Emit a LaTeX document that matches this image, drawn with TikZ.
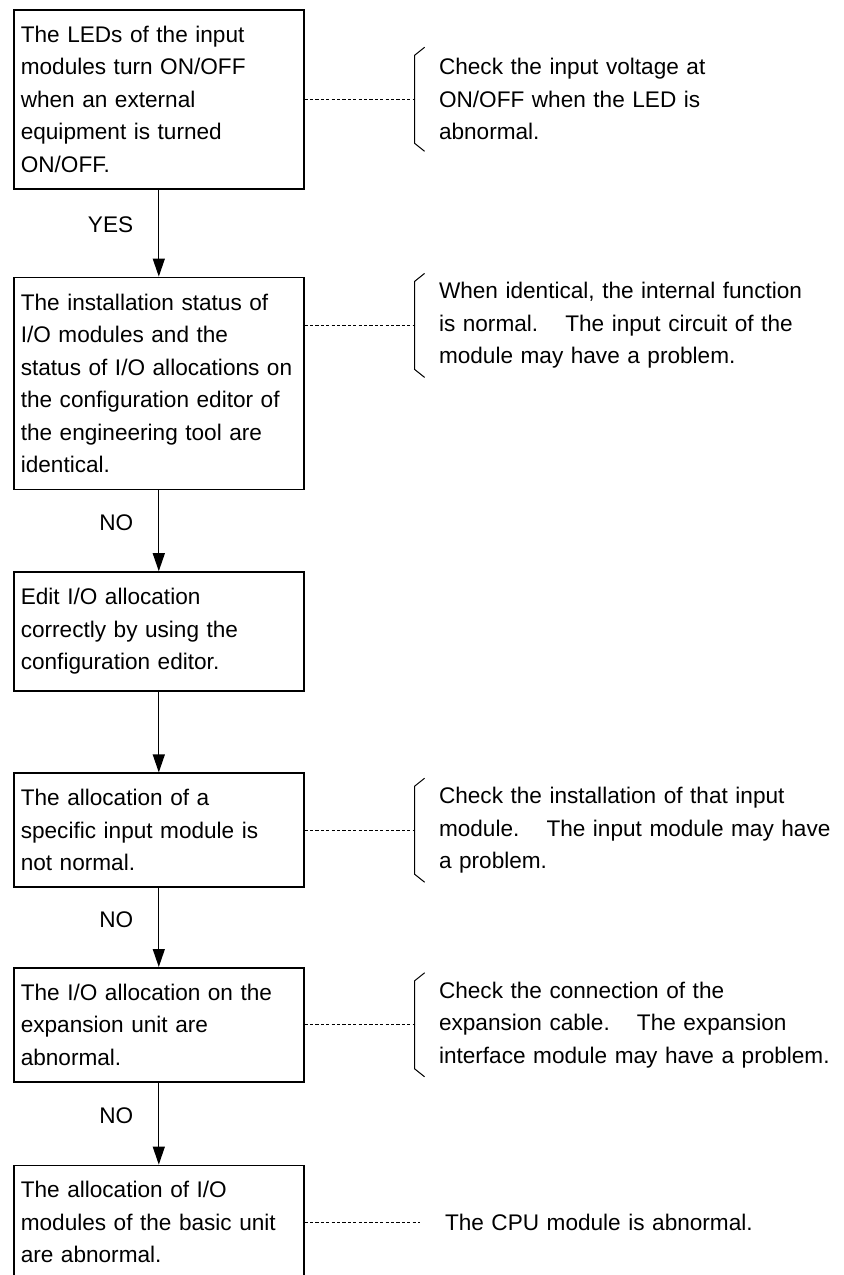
\documentclass[tikz,border=0pt]{standalone}
\usepackage{fontspec}
\setmainfont{Liberation Sans}
\usetikzlibrary{positioning,arrows.meta}

\newcommand{\notebrace}[1]{%
  \draw[bracket] ([xshift=-7pt,yshift=26pt]#1.west) -- ([xshift=-12pt,yshift=22pt]#1.west)
    -- ([xshift=-12pt,yshift=-22pt]#1.west) -- ([xshift=-7pt,yshift=-26pt]#1.west);}

\begin{document}
\begin{tikzpicture}[
    font=\fontsize{11.3pt}{16.25pt}\selectfont,
    stepbox/.style={rectangle, draw, line width=0.8pt, text width=138pt,
                    inner xsep=3.5pt, inner ysep=0pt, align=left},
    note/.style={text width=205pt, inner sep=0pt, align=left},
    flow/.style={-{Triangle[length=9pt,width=6pt]}, line width=0.65pt},
    leader/.style={dash pattern=on 1.6pt off 1.1pt, line width=0.5pt},
    bracket/.style={line width=0.5pt},
    answer/.style={inner sep=0pt, left=12.5pt}
]

\useasboundingbox (0,0) rectangle (421.5pt,-637.5pt);

% Check steps
\node[stepbox, minimum height=89.5pt, anchor=north west] (b1) at (6.5pt,-4.5pt)
  {The LEDs of the input\\ modules turn ON/OFF\\ when an external\\ equipment is turned\\ ON/OFF.};
\node[stepbox, minimum height=106pt, below=43.5pt of b1] (b2)
  {The installation status of\\ I/O modules and the\\ status of I/O allocations on\\ the configuration editor of\\ the engineering tool are\\ identical.};
\node[stepbox, minimum height=59.5pt, below=40.5pt of b2] (b3)
  {Edit I/O allocation\\ correctly by using the\\ configuration editor.};
\node[stepbox, minimum height=57pt, below=40.3pt of b3] (b4)
  {The allocation of a\\ specific input module is\\ not normal.};
\node[stepbox, minimum height=57pt, below=39.5pt of b4] (b5)
  {The I/O allocation on the\\ expansion unit are\\ abnormal.};
\node[stepbox, minimum height=57pt, below=41pt of b5] (b6)
  {The allocation of I/O\\ modules of the basic unit\\ are abnormal.};

% Notes
\node[note, right=67pt of b1] (n1)
  {Check the input voltage at\\ ON/OFF when the LED is\\ abnormal.};
\node[note, right=67pt of b2, yshift=29pt] (n2)
  {When identical, the internal function\\ is normal.\hspace{1.2em}The input circuit of the\\ module may have a problem.};
\node[note, right=67pt of b4] (n4)
  {Check the installation of that input\\ module.\hspace{1.2em}The input module may have\\ a problem.};
\node[note, right=67pt of b5] (n5)
  {Check the connection of the\\ expansion cable.\hspace{1.2em}The expansion\\ interface module may have a problem.};
\node[note, right=70pt of b6] (n6) {The CPU module is abnormal.};

% Flow
\draw[flow] (b1) -- node[answer, pos=0.4] {YES} (b2);
\draw[flow] (b2) -- node[answer, pos=0.4] {NO} (b3);
\draw[flow] (b3) -- (b4);
\draw[flow] (b4) -- node[answer, pos=0.4] {NO} (b5);
\draw[flow] (b5) -- node[answer, pos=0.4] {NO} (b6);

% Leaders and braces
\draw[leader] (b1.east |- n1.west) -- ([xshift=-12pt]n1.west);
\draw[leader] (b2.east |- n2.west) -- ([xshift=-12pt]n2.west);
\draw[leader] (b4.east |- n4.west) -- ([xshift=-12pt]n4.west);
\draw[leader] (b5.east |- n5.west) -- ([xshift=-12pt]n5.west);
\draw[leader] (b6.east |- n6.west) -- ([xshift=-12.5pt]n6.west);
\notebrace{n1}
\notebrace{n2}
\notebrace{n4}
\notebrace{n5}

\end{tikzpicture}
\end{document}
